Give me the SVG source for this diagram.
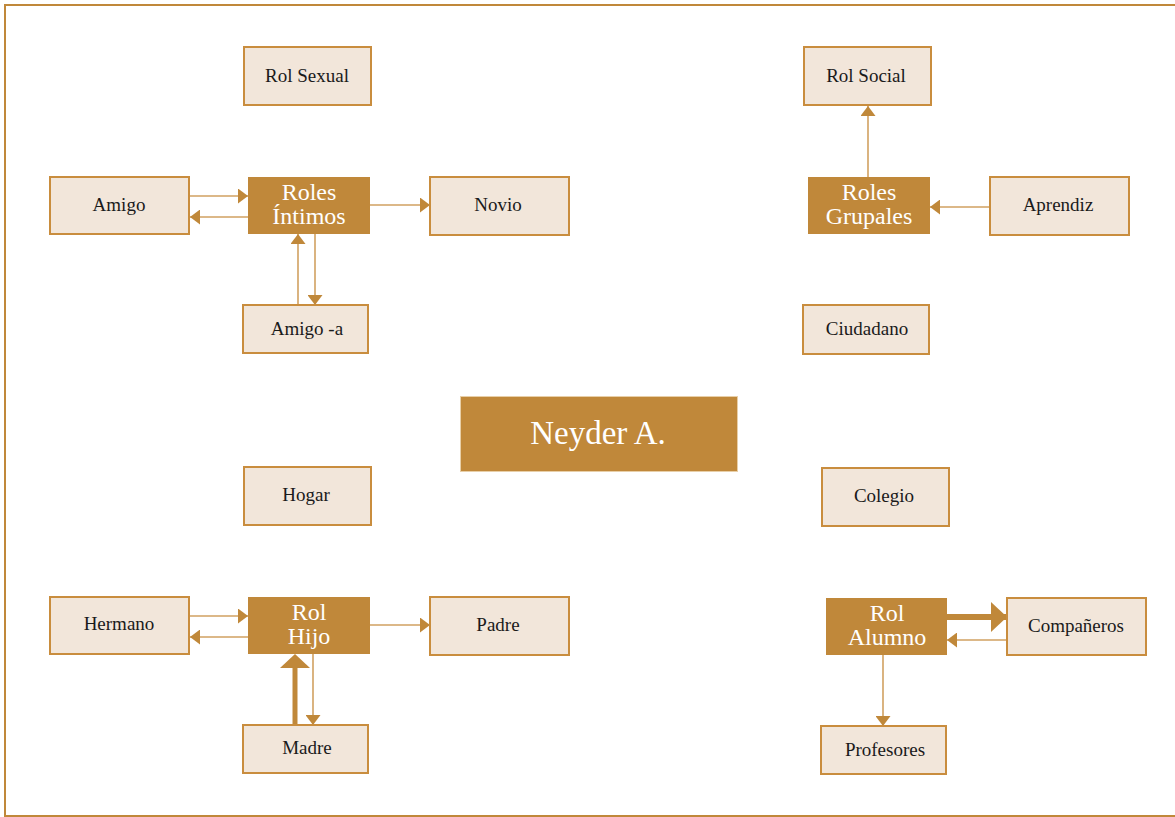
<svg xmlns="http://www.w3.org/2000/svg" width="1175" height="817" viewBox="0 0 1175 817">
  <style>
    .light rect { fill: #F2E6DA; stroke: #C98D3E; stroke-width: 2; }
    .dark rect { fill: #C0883A; stroke: none; }
    .light text { font-family: "Liberation Serif", "DejaVu Serif", serif; font-size: 19px; fill: #1a1a1a; text-anchor: middle; }
    .dark text { font-family: "Liberation Serif", "DejaVu Serif", serif; font-size: 24px; fill: #FFFFFF; text-anchor: middle; }
    .thin { stroke: #D1A161; stroke-width: 1.6; fill: none; }
    .thick { stroke: #C0883A; fill: none; }
  </style>
  <defs>
    <marker id="ah" markerUnits="userSpaceOnUse" markerWidth="10" markerHeight="15" refX="10" refY="7.5" orient="auto">
      <path d="M0,0 L10,7.5 L0,15 Z" fill="#C0883A"/>
    </marker>
    <marker id="ahBig" markerUnits="userSpaceOnUse" markerWidth="16" markerHeight="30" refX="16" refY="15" orient="auto">
      <path d="M0,0 L16,15 L0,30 Z" fill="#C0883A"/>
    </marker>
  </defs>

  <!-- page frame -->
  <rect x="5" y="5" width="1175" height="811" fill="#FFFFFF" stroke="#C0883A" stroke-width="2"/>

  <!-- connectors -->
  <g id="connectors">
    <!-- Roles Íntimos cluster -->
    <line class="thin" x1="190" y1="196" x2="248" y2="196" marker-end="url(#ah)"/>
    <line class="thin" x1="248" y1="217" x2="190" y2="217" marker-end="url(#ah)"/>
    <line class="thin" x1="370" y1="205" x2="430" y2="205" marker-end="url(#ah)"/>
    <line class="thin" x1="298" y1="305" x2="298" y2="234" marker-end="url(#ah)"/>
    <line class="thin" x1="315" y1="234" x2="315" y2="305" marker-end="url(#ah)"/>
    <!-- Roles Grupales cluster -->
    <line class="thin" x1="868" y1="177" x2="868" y2="106" marker-end="url(#ah)"/>
    <line class="thin" x1="990" y1="207" x2="930" y2="207" marker-end="url(#ah)"/>
    <!-- Rol Hijo cluster -->
    <line class="thin" x1="190" y1="616" x2="248" y2="616" marker-end="url(#ah)"/>
    <line class="thin" x1="248" y1="637" x2="190" y2="637" marker-end="url(#ah)"/>
    <line class="thin" x1="370" y1="625" x2="430" y2="625" marker-end="url(#ah)"/>
    <line class="thin" x1="313" y1="654" x2="313" y2="725" marker-end="url(#ah)"/>
    <line class="thick" x1="295" y1="725" x2="295" y2="667" stroke-width="5"/>
    <path d="M280,668 L295,654 L310,668 Z" fill="#C0883A"/>
    <!-- Rol Alumno cluster -->
    <line class="thick" x1="947" y1="617" x2="1007" y2="617" stroke-width="6" marker-end="url(#ahBig)"/>
    <line class="thin" x1="1007" y1="640" x2="947" y2="640" marker-end="url(#ah)"/>
    <line class="thin" x1="883" y1="655" x2="883" y2="726" marker-end="url(#ah)"/>
  </g>

  <!-- nodes -->
  <g id="rol-sexual" class="light"><rect x="244" y="47" width="127" height="58"/><text x="307" y="82">Rol Sexual</text></g>
  <g id="rol-social" class="light"><rect x="804" y="47" width="127" height="58"/><text x="866" y="82">Rol Social</text></g>

  <g id="amigo" class="light"><rect x="50" y="177" width="139" height="57"/><text x="119" y="211">Amigo</text></g>
  <g id="roles-intimos" class="dark"><rect x="248" y="177" width="122" height="57"/><text x="309" y="200">Roles</text><text x="309" y="224">Íntimos</text></g>
  <g id="novio" class="light"><rect x="430" y="177" width="139" height="58"/><text x="498" y="211">Novio</text></g>

  <g id="roles-grupales" class="dark"><rect x="808" y="177" width="122" height="57"/><text x="869" y="200">Roles</text><text x="869" y="224">Grupales</text></g>
  <g id="aprendiz" class="light"><rect x="990" y="177" width="139" height="58"/><text x="1058" y="211">Aprendiz</text></g>

  <g id="amigo-a" class="light"><rect x="243" y="305" width="125" height="48"/><text x="307" y="335">Amigo -a</text></g>
  <g id="ciudadano" class="light"><rect x="803" y="305" width="126" height="49"/><text x="867" y="335">Ciudadano</text></g>

  <g id="neyder"><rect x="460.5" y="396.5" width="277" height="75" fill="#C0883A" stroke="#E8CFA8" stroke-width="1"/><text x="598" y="444" font-family="'Liberation Serif', 'DejaVu Serif', serif" font-size="33" fill="#FFFFFF" text-anchor="middle">Neyder A.</text></g>

  <g id="hogar" class="light"><rect x="244" y="467" width="127" height="58"/><text x="306" y="501">Hogar</text></g>
  <g id="colegio" class="light"><rect x="822" y="468" width="127" height="58"/><text x="884" y="502">Colegio</text></g>

  <g id="hermano" class="light"><rect x="50" y="597" width="139" height="57"/><text x="119" y="630">Hermano</text></g>
  <g id="rol-hijo" class="dark"><rect x="248" y="597" width="122" height="57"/><text x="309" y="620">Rol</text><text x="309" y="644">Hijo</text></g>
  <g id="padre" class="light"><rect x="430" y="597" width="139" height="58"/><text x="498" y="631">Padre</text></g>

  <g id="rol-alumno" class="dark"><rect x="826" y="598" width="121" height="57"/><text x="887" y="621">Rol</text><text x="887" y="645">Alumno</text></g>
  <g id="companeros" class="light"><rect x="1007" y="598" width="139" height="57"/><text x="1076" y="632">Compañeros</text></g>

  <g id="madre" class="light"><rect x="243" y="725" width="125" height="48"/><text x="307" y="754">Madre</text></g>
  <g id="profesores" class="light"><rect x="821" y="726" width="125" height="48"/><text x="885" y="756">Profesores</text></g>
</svg>
